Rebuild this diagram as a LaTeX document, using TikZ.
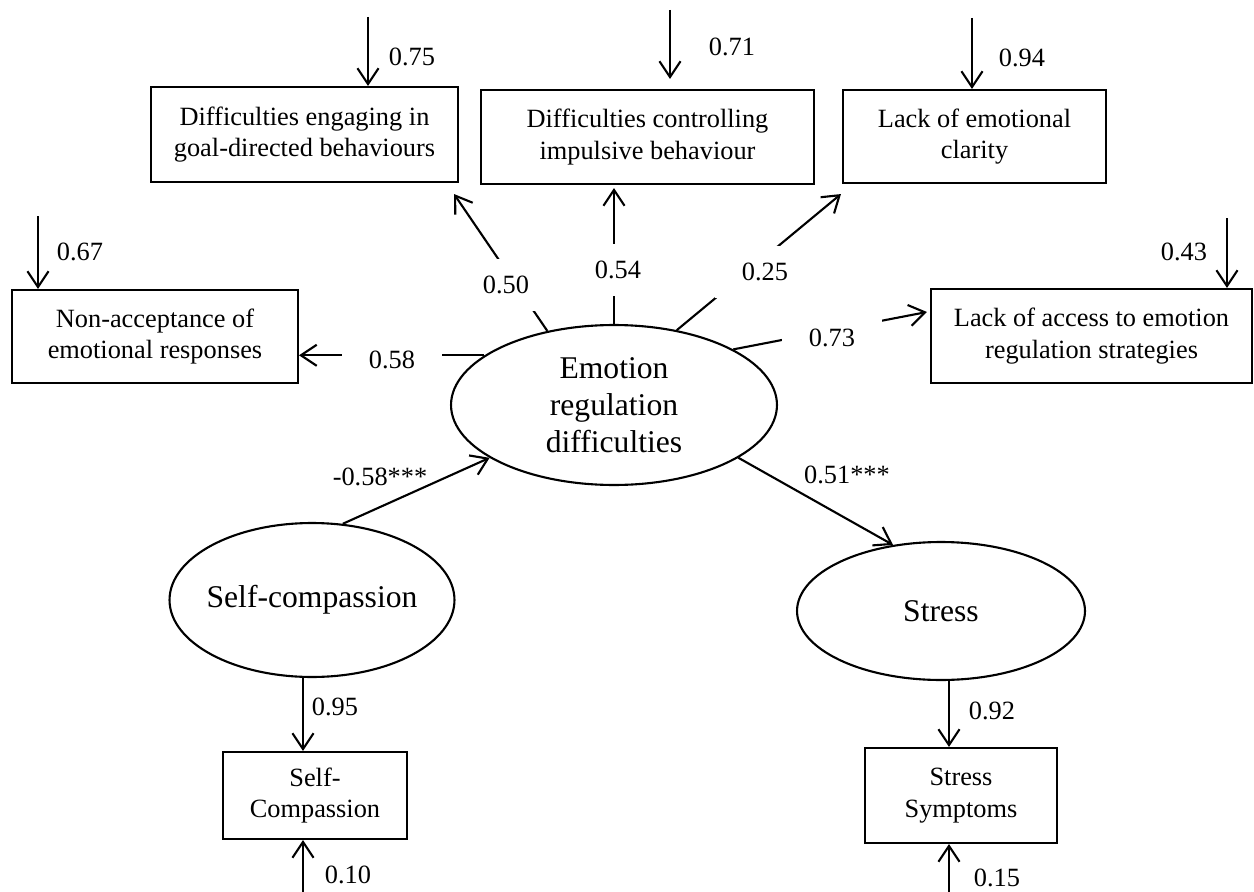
\documentclass[tikz,border=0pt]{standalone}
\usepackage{fontspec}
\setmainfont{Liberation Serif}
\usetikzlibrary{arrows.meta, shapes.geometric, calc}

\newcommand\boxfont{\fontsize{15}{18}\selectfont}
\newcommand\latfont{\fontsize{18}{21}\selectfont}

\tikzset{
  observed/.style={draw, align=center, font=\boxfont, inner sep=0pt},
  latent/.style={draw, ellipse, align=center, font=\latfont, inner sep=0pt},
  coef/.style={fill=white, font=\boxfont, minimum width=2cm, minimum height=1.04cm},
  err/.style={font=\boxfont},
}

\begin{document}
\begin{tikzpicture}[x=0.02cm, y=-0.02cm, line width=1.2pt, >={Straight Barb[length=9pt,width=12pt]}]
  \useasboundingbox (0,0) rectangle (1254,892);

  % latent variables
  \node[latent, minimum width=6.52cm, minimum height=3.2cm] (erd) at (614,405) {Emotion\\regulation\\difficulties};
  \node[latent, minimum width=5.7cm, minimum height=3.08cm, inner xsep=-3pt] (sc) at (312,600) {Self-compassion};
  \node[latent, minimum width=5.76cm, minimum height=2.76cm] (st) at (941,611) {Stress};

  % indicators
  \node[observed, minimum width=6.14cm, minimum height=1.9cm] (goal) at (304.5,134.5) {Difficulties engaging in\\goal-directed behaviours};
  \node[observed, minimum width=6.66cm, minimum height=1.88cm] (impulse) at (647.5,137) {Difficulties controlling\\impulsive behaviour};
  \node[observed, minimum width=5.26cm, minimum height=1.86cm] (clarity) at (974.5,136.5) {Lack of emotional\\clarity};
  \node[observed, minimum width=5.72cm, minimum height=1.86cm] (nonacc) at (155,336.5) {Non-acceptance of\\emotional responses};
  \node[observed, minimum width=6.42cm, minimum height=1.88cm] (access) at (1091.5,336) {Lack of access to emotion\\regulation strategies};
  \node[observed, minimum width=3.68cm, minimum height=1.74cm] (scbox) at (315,795.5) {Self-\\Compassion};
  \node[observed, minimum width=3.84cm, minimum height=1.9cm] (stbox) at (961,795.5) {Stress\\Symptoms};

  % error terms
  \coordinate (e75) at (368,17);
  \coordinate (e71) at (670,10);
  \coordinate (e94) at (972,18);
  \coordinate (e67) at (38,216);
  \coordinate (e43) at (1227,218);
  \coordinate (e10) at (303,892);
  \coordinate (e15) at (949,892);
  \draw[->] (e75) -- (e75 |- goal.north);
  \draw[->, shorten >=0.2cm] (e71) -- (e71 |- impulse.north);
  \draw[->] (e94) -- (e94 |- clarity.north);
  \draw[->] (e67) -- (e67 |- nonacc.north);
  \draw[->] (e43) -- (e43 |- access.north);
  \draw[->] (e10) -- (e10 |- scbox.south);
  \draw[->] (e15) -- (e15 |- stbox.south);
  \node[err] (v75) at (412,57) {0.75};
  \node[err] (v71) at (732,47) {0.71};
  \node[err] (v94) at (1022,58) {0.94};
  \node[err] (v67) at (80,252) {0.67};
  \node[err] (v43) at (1184,252) {0.43};
  \node[err] (v10) at (348,875) {0.10};
  \node[err] (v15) at (997,878) {0.15};

  % structural paths
  \draw[->] (sc.68) -- (erd.203);
  \draw[->] (erd.337) -- (st.126);
  \node[err] (p1) at (380,477) {-0.58***};
  \node[err] (p2) at (847,475) {0.51***};

  % loadings
  \draw[->] ([xshift=-0.18cm]sc.south) -- ([xshift=-0.18cm]sc.south |- scbox.north);
  \draw[->] ([xshift=0.16cm]st.south) -- ([xshift=0.16cm]st.south |- stbox.north);
  \node[err] (v95) at (335,707) {0.95};
  \node[err] (v92) at (992,711) {0.92};

  \draw[->] (erd.132) -- ($(goal.south east)+(-5,11)$);
  \draw[->, shorten >=0.06cm] (erd.north) -- (erd.north |- impulse.south);
  \draw[->] (erd.50) -- ($(clarity.south west)+(-1,10)$);
  \draw[->] (erd.25) -- ($(access.west)+(-3,-24)$);
  \draw[->] (erd.159) -- (erd.159 -| nonacc.east);
  \node[coef] (c50) at (506,285) {0.50};
  \node[coef] (c54) at (618,270) {0.54};
  \node[coef] (c25) at (765,272) {0.25};
  \node[coef] (c73) at (832,338) {0.73};
  \node[coef] (c58) at (392,360) {0.58};
\end{tikzpicture}
\end{document}
